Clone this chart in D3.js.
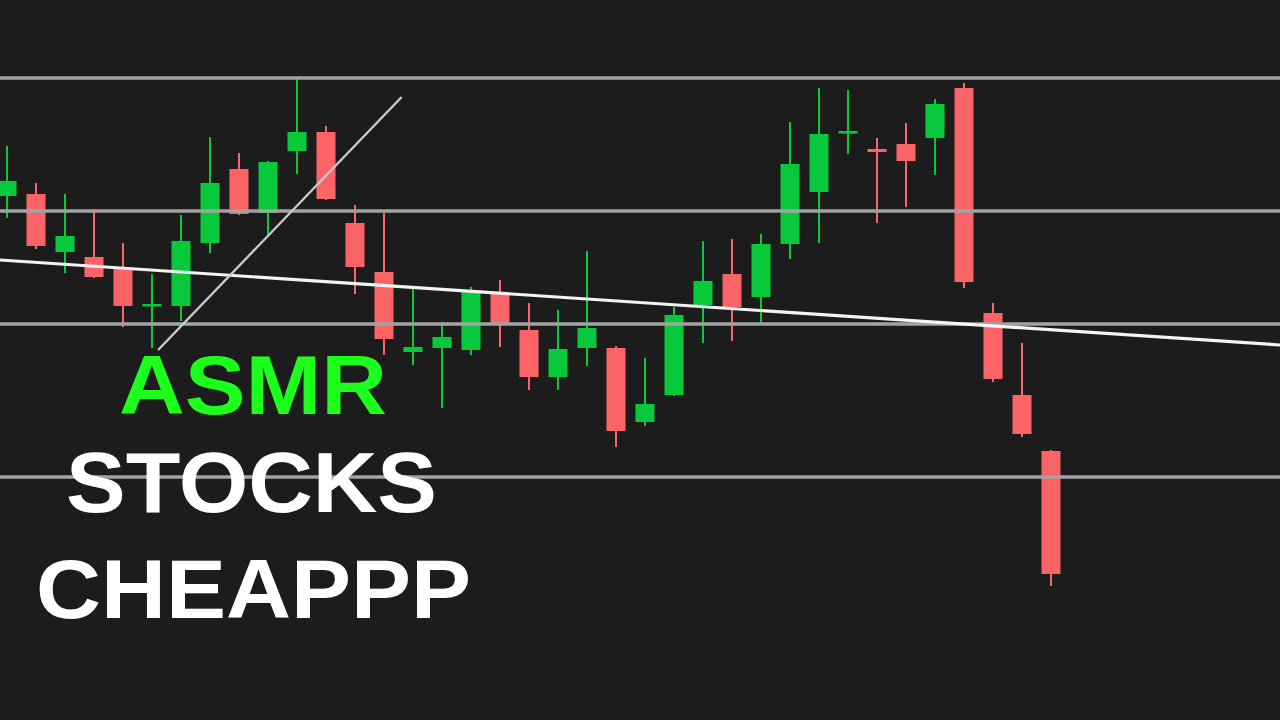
<!DOCTYPE html>
<html>
<head>
<meta charset="utf-8">
<script src="https://cdn.jsdelivr.net/npm/d3@7/dist/d3.min.js"></script>
<style>
  html, body { margin: 0; padding: 0; background: #1c1c1c; overflow: hidden; }
  svg { display: block; }
</style>
</head>
<body>
<svg id="chart" width="1280" height="720"></svg>
<script>
// Candle data (arbitrary price units)
const opens  = [52.4,52.6,46.8,46.3,45.1,41.4,41.4,47.7,55.1,50.7,56.9,58.8,49.7,44.8,36.8,37.2,37.0,42.7,39.0,34.3,37.2,37.2,29.8,32.5,41.5,44.6,42.3,47.6,52.8,58.7,57.1,57.6,58.2,63.2,40.7,32.5,26.9];
const highs  = [57.4,53.7,52.6,51.1,47.7,44.6,50.5,58.3,56.7,55.9,64.2,59.4,51.5,50.7,43.2,39.8,43.3,44.0,41.7,41.0,46.9,37.4,36.2,41.3,47.9,48.1,48.6,59.8,63.2,63.0,58.2,59.7,62.1,63.7,41.7,37.7,27.0];
const lows   = [50.2,47.1,44.7,44.2,39.3,37.2,39.9,46.7,50.5,48.3,54.6,52.0,42.6,36.5,35.5,31.2,36.5,37.3,33.0,33.0,35.4,27.3,29.4,32.4,37.7,37.9,39.5,46.1,47.7,56.6,49.7,51.3,54.5,43.2,33.8,28.3,13.4];
const closes = [53.9,47.4,48.4,44.3,41.4,41.6,47.9,53.7,50.6,55.8,58.8,52.1,45.3,38.1,37.3,38.3,42.8,39.7,34.3,37.1,39.2,28.9,31.6,40.5,43.9,41.3,47.6,55.6,58.6,58.9,56.8,55.9,61.6,43.8,34.1,28.6,14.6];

// Horizontal support/resistance levels
const levels = [64.2, 50.9, 39.6, 24.3];
// Drawn trend lines: [candle index, price] endpoints
const trendLine = [[-0.24, 46.0], [43.9, 37.5]];
const diagLine  = [[5.21, 37.0], [13.61, 62.3]];

// Title lines
const titleLines = ["ASMR", "STOCKS", "CHEAPPP"];

const W = 1280, H = 720;
const svg = d3.select("#chart");
svg.append("rect").attr("width", W).attr("height", H).attr("fill", "#1c1c1c");

const x = d3.scaleLinear().domain([0, 36]).range([7, 1051]);
const y = d3.scaleLinear().domain([0, 72]).range([720, 0]);

const candles = opens.map((o, i) => ({ i, o, h: highs[i], l: lows[i], c: closes[i] }));
const GREEN = "#08c93b", RED = "#fb6466";
const bodyW = 19;

const g = svg.append("g");
g.selectAll("line.wick").data(candles).join("line")
  .attr("class", "wick")
  .attr("x1", d => x(d.i)).attr("x2", d => x(d.i))
  .attr("y1", d => y(d.h)).attr("y2", d => y(d.l))
  .attr("stroke", d => d.c >= d.o ? GREEN : RED)
  .attr("stroke-width", 2);

g.selectAll("rect.body").data(candles).join("rect")
  .attr("class", "body")
  .attr("x", d => x(d.i) - bodyW / 2)
  .attr("width", bodyW)
  .attr("y", d => y(Math.max(d.o, d.c)))
  .attr("height", d => Math.max(2.5, Math.abs(y(d.o) - y(d.c))))
  .attr("fill", d => d.c >= d.o ? GREEN : RED);

// horizontal levels
svg.append("g").selectAll("line").data(levels).join("line")
  .attr("x1", 0).attr("x2", W)
  .attr("y1", d => y(d)).attr("y2", d => y(d))
  .attr("stroke", "#a3a3a3").attr("stroke-width", 3.5);

// trend line (white)
const lineGen = d3.line().x(d => x(d[0])).y(d => y(d[1]));
svg.append("path").datum(trendLine).attr("d", lineGen)
  .attr("stroke", "#f4f4f4").attr("stroke-width", 3.2).attr("fill", "none");
svg.append("path").datum(diagLine).attr("d", lineGen)
  .attr("stroke", "#c9c9c9").attr("stroke-width", 2.4).attr("fill", "none");

// Title text
const textSpecs = [
  { x: 119, y: 414, size: 84, len: 268, fill: "#1cff1c" },
  { x: 66,  y: 512, size: 86, len: 371, fill: "#ffffff" },
  { x: 36,  y: 618, size: 84, len: 435, fill: "#ffffff" }
];
svg.append("g").selectAll("text").data(titleLines).join("text")
  .attr("x", (d, i) => textSpecs[i].x)
  .attr("y", (d, i) => textSpecs[i].y)
  .attr("font-family", "'Liberation Sans', Arial, sans-serif")
  .attr("font-weight", "bold")
  .attr("font-size", (d, i) => textSpecs[i].size)
  .attr("textLength", (d, i) => textSpecs[i].len)
  .attr("lengthAdjust", "spacingAndGlyphs")
  .attr("fill", (d, i) => textSpecs[i].fill)
  .text(d => d);
</script>
</body>
</html>
